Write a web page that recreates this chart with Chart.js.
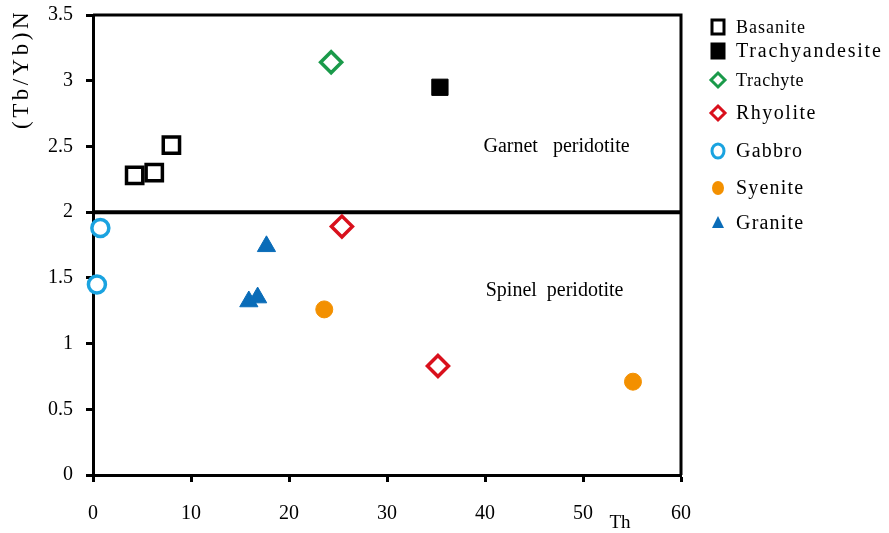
<!DOCTYPE html>
<html>
<head>
<meta charset="utf-8">
<script src="https://cdn.jsdelivr.net/npm/chart.js@4.4.0/dist/chart.umd.min.js"></script>
<style>
  html, body { margin: 0; padding: 0; background: #fff; }
  #wrap { width: 889px; height: 533px; }
</style>
</head>
<body>
<div id="wrap"><canvas id="chart" width="889" height="533"></canvas></div>
<script>
// Th vs (Tb/Yb)N values per rock type
const basaniteTh = [4.25, 6.25, 8.0];
const basaniteTbYb = [2.28, 2.30, 2.51];
const trachyandesiteTh = [35.4];
const trachyandesiteTbYb = [2.95];
const trachyteTh = [24.3];
const trachyteTbYb = [3.14];
const rhyoliteTh = [25.4, 35.2];
const rhyoliteTbYb = [1.89, 0.83];
const gabbroTh = [0.75, 0.4];
const gabbroTbYb = [1.88, 1.45];
const syeniteTh = [23.6, 55.1];
const syeniteTbYb = [1.26, 0.71];
const graniteTh = [17.7, 15.9, 16.8];
const graniteTbYb = [1.74, 1.32, 1.35];

// garnet / spinel boundary
const boundaryTh = [0, 60];
const boundaryTbYb = [2, 2];

const xTicks = [0, 10, 20, 30, 40, 50, 60];
const yTicks = [0, 0.5, 1, 1.5, 2, 2.5, 3, 3.5];

const serif = "'Liberation Serif', 'DejaVu Serif', serif";

function pts(xs, ys) {
  return xs.map((x, i) => ({ x: x, y: ys[i] }));
}

// legend entries (drawn by hand, spacing in the figure is irregular)
const legendItems = [
  { text: 'Basanite', style: 'square', color: '#000', fill: false, y: 27, size: 18, sp: 1 },
  { text: 'Trachyandesite', style: 'square', color: '#000', fill: true, y: 51, size: 20, sp: 1.8 },
  { text: 'Trachyte', style: 'diamond', color: '#1a9a4a', fill: false, y: 80, size: 18, sp: 0.6 },
  { text: 'Rhyolite', style: 'diamond', color: '#d9101c', fill: false, y: 113, size: 20, sp: 1.5 },
  { text: 'Gabbro', style: 'circle', color: '#1aa3e0', fill: false, y: 151, size: 20, sp: 1.2 },
  { text: 'Syenite', style: 'circle', color: '#f39000', fill: true, y: 188, size: 20, sp: 1.2 },
  { text: 'Granite', style: 'triangle', color: '#0a6cb8', fill: true, y: 223, size: 20, sp: 1.2 }
];

function drawMarker(ctx, style, x, y, color, fill) {
  ctx.save();
  ctx.lineWidth = 3;
  ctx.strokeStyle = color;
  ctx.fillStyle = fill ? color : '#fff';
  ctx.beginPath();
  if (style === 'square') {
    ctx.rect(x - 6, y - 7, 12, 14);
  } else if (style === 'diamond') {
    ctx.moveTo(x, y - 7);
    ctx.lineTo(x + 7, y);
    ctx.lineTo(x, y + 7);
    ctx.lineTo(x - 7, y);
    ctx.closePath();
  } else if (style === 'circle') {
    ctx.ellipse(x, y, 6, 7, 0, 0, Math.PI * 2);
  } else if (style === 'triangle') {
    ctx.moveTo(x, y - 7);
    ctx.lineTo(x + 6, y + 5);
    ctx.lineTo(x - 6, y + 5);
    ctx.closePath();
  }
  ctx.fill();
  if (!(fill && style !== 'square')) ctx.stroke();
  ctx.restore();
}

const extras = {
  id: 'extras',
  afterDraw(chart) {
    const ctx = chart.ctx;
    const a = chart.chartArea;
    const xs = chart.scales.x;
    const ys = chart.scales.y;

    // top and right frame lines
    ctx.save();
    ctx.strokeStyle = '#000';
    ctx.lineWidth = 3;
    ctx.beginPath();
    ctx.moveTo(a.left, a.top);
    ctx.lineTo(a.right, a.top);
    ctx.lineTo(a.right, a.bottom);
    ctx.stroke();

    // field names
    ctx.fillStyle = '#000';
    ctx.textAlign = 'center';
    ctx.textBaseline = 'middle';
    ctx.font = '20px ' + serif;
    ctx.fillText('Garnet   peridotite', xs.getPixelForValue(47.3), ys.getPixelForValue(2.5));
    ctx.fillText('Spinel  peridotite', xs.getPixelForValue(47.1), ys.getPixelForValue(1.4));

    // axis titles
    ctx.font = '19px ' + serif;
    ctx.fillText('Th', 620, 523);
    ctx.save();
    ctx.translate(22, 69);
    ctx.rotate(-Math.PI / 2);
    ctx.font = '23px ' + serif;
    ctx.letterSpacing = '3.5px';
    ctx.fillText('(Tb/Yb)N', 0, 0);
    ctx.restore();

    // legend
    ctx.textAlign = 'left';
    legendItems.forEach(it => {
      drawMarker(ctx, it.style, 718, it.y, it.color, it.fill);
      ctx.font = it.size + 'px ' + serif;
      ctx.letterSpacing = it.sp + 'px';
      ctx.fillStyle = '#000';
      ctx.fillText(it.text, 736, it.y + 1);
    });
    ctx.restore();
  }
};

const openStyle = (color, shape, r) => ({
  pointStyle: shape, pointRadius: r, pointHoverRadius: r,
  borderColor: color, backgroundColor: '#fff', pointBorderWidth: 3.5, clip: false
});
const fillStyle = (color, shape, r) => ({
  pointStyle: shape, pointRadius: r, pointHoverRadius: r,
  borderColor: color, backgroundColor: color, pointBorderWidth: 1, clip: false
});

new Chart(document.getElementById('chart').getContext('2d'), {
  type: 'scatter',
  data: {
    datasets: [
      Object.assign({ label: 'Basanite', data: pts(basaniteTh, basaniteTbYb) }, openStyle('#000', 'rect', 11.5)),
      Object.assign({ label: 'Trachyandesite', data: pts(trachyandesiteTh, trachyandesiteTbYb) }, fillStyle('#000', 'rect', 11.5)),
      Object.assign({ label: 'Trachyte', data: pts(trachyteTh, trachyteTbYb) }, openStyle('#1a9a4a', 'rectRot', 10.5)),
      Object.assign({ label: 'Rhyolite', data: pts(rhyoliteTh, rhyoliteTbYb) }, openStyle('#d9101c', 'rectRot', 10.5)),
      Object.assign({ label: 'Gabbro', data: pts(gabbroTh, gabbroTbYb) }, openStyle('#1aa3e0', 'circle', 8.5)),
      Object.assign({ label: 'Syenite', data: pts(syeniteTh, syeniteTbYb) }, fillStyle('#f39000', 'circle', 8.5)),
      Object.assign({ label: 'Granite', data: pts(graniteTh, graniteTbYb) }, fillStyle('#0a6cb8', 'triangle', 10.5)),
      {
        label: 'boundary',
        type: 'line',
        data: pts(boundaryTh, boundaryTbYb),
        borderColor: '#000',
        borderWidth: 4,
        pointRadius: 0,
        fill: false
      }
    ]
  },
  options: {
    responsive: false,
    animation: false,
    layout: { padding: { top: 15, right: 208, left: 0, bottom: 0 } },
    plugins: {
      legend: { display: false },
      tooltip: { enabled: false }
    },
    scales: {
      x: {
        type: 'linear',
        min: 0,
        max: 60,
        afterBuildTicks: s => { s.ticks = xTicks.map(v => ({ value: v })); },
        afterFit: s => { s.height = 58; s.paddingLeft = 0; s.paddingRight = 0; },
        ticks: { color: '#000', font: { family: serif, size: 20 }, padding: 20, maxRotation: 0 },
        grid: { drawOnChartArea: false, drawTicks: true, tickLength: 7, tickWidth: 3, color: '#000' },
        border: { display: true, width: 3, color: '#000' }
      },
      y: {
        min: 0,
        max: 3.5,
        afterBuildTicks: s => { s.ticks = yTicks.map(v => ({ value: v })); },
        afterFit: s => { s.width = 93; s.paddingTop = 0; s.paddingBottom = 0; },
        ticks: { color: '#000', font: { family: serif, size: 20 }, padding: 13, callback: v => String(v) },
        grid: { drawOnChartArea: false, drawTicks: true, tickLength: 7, tickWidth: 3, color: '#000' },
        border: { display: true, width: 3, color: '#000' }
      }
    }
  },
  plugins: [extras]
});
</script>
</body>
</html>
